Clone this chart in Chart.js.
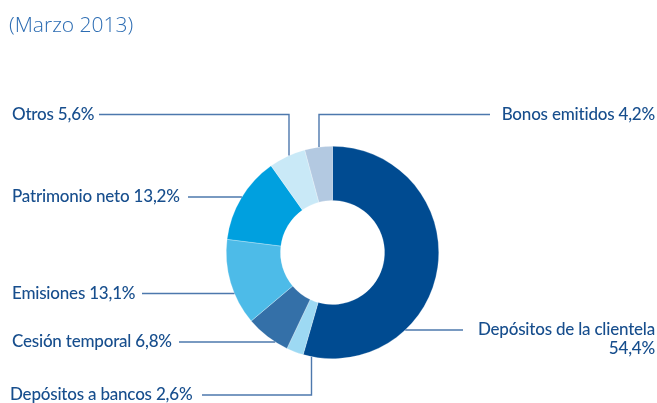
<!DOCTYPE html>
<html>
<head>
<meta charset="utf-8">
<script src="https://cdn.jsdelivr.net/npm/chart.js@4/dist/chart.umd.min.js"></script>
<style>
  html, body { margin: 0; padding: 0; background: #ffffff; }
  #wrap { width: 657px; height: 403px; position: relative; }
</style>
</head>
<body>
<div id="wrap"><canvas id="c" width="657" height="403"></canvas></div>
<script>
// Funding structure, March 2013 (% of total)
const categories = [
  'Depósitos de la clientela',
  'Depósitos a bancos',
  'Cesión temporal',
  'Emisiones',
  'Patrimonio neto',
  'Otros',
  'Bonos emitidos'
];
const shares = [54.4, 2.6, 6.8, 13.1, 13.2, 5.6, 4.2];
const shareLabels = ['54,4%', '2,6%', '6,8%', '13,1%', '13,2%', '5,6%', '4,2%'];
const sliceColors = ['#004b91', '#9dd9f3', '#3470a8', '#4dbbe8', '#00a0df', '#c9e9f7', '#b3c9e1'];

const TEXT_COLOR = '#174e8d';
const LINE_COLOR = '#4d78ad';
const FONT = '500 17px Lato, "Open Sans", sans-serif';

// Callout placement for each slice label.
// side: which side of the ring the text sits on; y: height of the horizontal leader;
// textX: text anchor; lineX: outer end of the horizontal leader;
// elbowX: if set, the leader turns vertical at this x and runs to the ring.
const callouts = [
  { side: 'right', y: 330,   textX: 655, lineX: 463, twoLines: true },
  { side: 'left',  y: 395,   textX: 10,  lineX: 202, elbowX: 311.5 },
  { side: 'left',  y: 342,   textX: 12,  lineX: 179 },
  { side: 'left',  y: 293.5, textX: 12,  lineX: 142 },
  { side: 'left',  y: 197,   textX: 12,  lineX: 188 },
  { side: 'left',  y: 114.5, textX: 12,  lineX: 99,  elbowX: 289 },
  { side: 'right', y: 114.5, textX: 655, lineX: 490, elbowX: 319 }
];

const calloutPlugin = {
  id: 'callouts',
  afterDraw(chart) {
    const ctx = chart.ctx;
    const arc = chart.getDatasetMeta(0).data[0];
    const cx = arc.x, cy = arc.y, r = arc.outerRadius;

    ctx.save();
    // Subtitle
    ctx.fillStyle = '#2d6db3';
    ctx.font = '300 21px "Open Sans", sans-serif';
    ctx.textAlign = 'left';
    ctx.textBaseline = 'alphabetic';
    ctx.fillText('(Marzo 2013)', 9, 32);

    ctx.strokeStyle = LINE_COLOR;
    ctx.lineWidth = 1.4;
    ctx.font = FONT;
    if ('letterSpacing' in ctx) ctx.letterSpacing = '-0.2px';
    ctx.fillStyle = TEXT_COLOR;
    ctx.textBaseline = 'middle';

    callouts.forEach((c, i) => {
      // leader
      ctx.beginPath();
      if (c.elbowX !== undefined) {
        const dx = c.elbowX - cx;
        const yEdge = cy + (c.y < cy ? -1 : 1) * Math.sqrt(Math.max(r * r - dx * dx, 0));
        ctx.moveTo(c.lineX, c.y);
        ctx.lineTo(c.elbowX, c.y);
        ctx.lineTo(c.elbowX, yEdge);
      } else {
        const dy = c.y - cy;
        const xEdge = cx + (c.side === 'left' ? -1 : 1) * Math.sqrt(Math.max(r * r - dy * dy, 0));
        ctx.moveTo(c.lineX, c.y);
        ctx.lineTo(xEdge, c.y);
      }
      ctx.stroke();

      // text
      if (c.twoLines) {
        ctx.textAlign = 'right';
        ctx.fillText(categories[i], c.textX, c.y);
        ctx.fillText(shareLabels[i], c.textX, c.y + 19);
      } else {
        ctx.textAlign = c.side === 'left' ? 'left' : 'right';
        ctx.fillText(categories[i] + ' ' + shareLabels[i], c.textX, c.y);
      }
    });
    ctx.restore();
  }
};

new Chart(document.getElementById('c'), {
  type: 'doughnut',
  data: {
    labels: categories,
    datasets: [{
      data: shares,
      backgroundColor: sliceColors,
      borderColor: 'rgba(255,255,255,0.5)',
      borderWidth: 0.5
    }]
  },
  options: {
    responsive: false,
    animation: false,
    cutout: '49%',
    rotation: 0,
    layout: { padding: { top: 146, bottom: 44, left: 226, right: 218 } },
    plugins: {
      legend: { display: false },
      tooltip: { enabled: false }
    }
  },
  plugins: [calloutPlugin]
});
</script>
</body>
</html>
